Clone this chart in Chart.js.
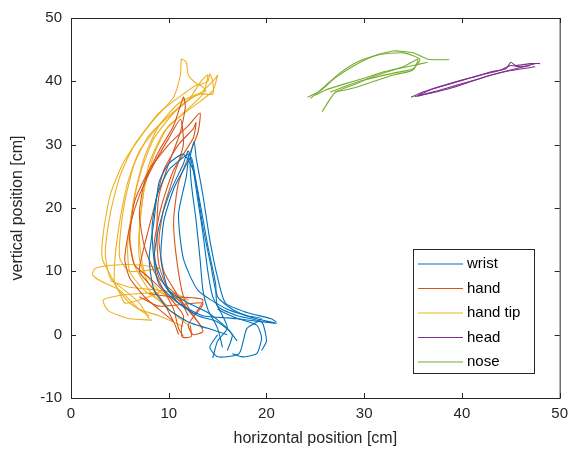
<!DOCTYPE html>
<html>
<head>
<meta charset="utf-8">
<script src="https://cdn.jsdelivr.net/npm/chart.js@4/dist/chart.umd.min.js"></script>
<style>
  html, body { margin: 0; padding: 0; background: #fff; }
  #wrap { width: 575px; height: 454px; }
</style>
</head>
<body>
<div id="wrap"><canvas id="trajChart" width="575" height="454"></canvas></div>
<script>
// tick labels
var xTicks = [0, 10, 20, 30, 40, 50];
var yTicks = [-10, 0, 10, 20, 30, 40, 50];

var partNames = ["wrist", "hand", "hand tip", "head", "nose"];
var partColors = ["#0072BD", "#D95319", "#EDB120", "#7E2F8E", "#77AC30"];

// trajectories, [x, y] in cm
var wrist = [
    [[15.5,-2],[15,1],[14,4],[13.5,7],[13.2,12],[12.8,18],[12.3,24],[12.2,28],[12.6,30.5],[12.8,28],[13.5,22],[14.2,15],[15,9],[15.8,5],[18,3.5],[20.5,2.5],[21,2]],
    [[16,-2.5],[16.5,0],[15,2],[13,3],[11,5],[9.5,8],[8.5,12],[8.3,17],[8.8,22],[10,26],[11.5,28],[12,28.5],[11.8,25],[11,19],[11.5,12],[13,7],[16,4],[19,2.5],[21,1.8],[17,2.6],[15,4]],
    [[14.5,-3.7],[15,-1],[16,1],[15.5,3],[14.5,6],[14,10],[13.5,16],[13,21],[12.5,26],[12,29],[11.5,27],[10,22],[9,17],[8.5,12],[9,8],[11,5],[13.5,3],[17,2.5],[19,1.5],[19.5,-0.5],[19,-3],[17.5,-3.5],[16.5,-3]],
    [[19.5,-2.5],[20,-1],[19.5,2],[17,3],[15,4.5],[14.8,8],[14,14],[13.3,20],[12.5,26],[11.5,28.5],[10,27],[9,24],[8.5,18],[8,12],[8.5,7],[10,4],[12,2],[14,1],[16,0]],
    [[17,-1],[16,1],[14,3.5],[12,5],[10,7],[9.2,12],[9.5,18],[10.5,23],[11.5,26],[12.3,28],[12.8,24],[13.5,17],[14.3,11],[15,6],[16.5,4],[18,3],[19.5,2.5],[18,1],[17.2,-3],[15,-3.5],[14.2,-2],[15,0]]
];
var hand = [
    [[11.5,-0.3],[11,1],[10.5,4],[9.5,7],[8.5,10],[7.5,14],[7,19],[7.5,24],[9,29],[10.5,33],[11.5,37.5],[11.7,36],[11.2,32],[10,27],[9,22],[8.8,16],[9,11],[10,7],[12,4],[13,2],[13.5,0.5],[12.5,0],[12,1.5],[13.5,5.5],[10,6],[8,6.5]],
    [[12.2,1.5],[12.3,-0.3],[11.4,-0.4],[11.3,1],[11.5,3],[10,6],[8,9],[6.5,11],[6,15],[6.5,21],[8,26],[10,30],[12,33],[13.2,35],[13,32],[12,28],[11,24],[10.5,18],[10.8,12],[11.5,6],[12.5,3],[13.5,1]],
    [[10.5,2],[9.5,5],[8,8],[7,10],[7.5,14],[8.5,20],[9.5,26],[11,30],[12.5,32.5],[12.8,33.5],[12.5,31],[10.5,26],[9.2,20],[8.5,14],[9,9],[11,6],[12.5,3],[13.5,5],[9,4.5],[7,6]],
    [[11,0],[10.5,2],[9,4],[7.5,6],[6,9],[5.5,12],[6,17],[7,22],[8.5,27],[10,31],[11.2,34],[11.5,30],[10.5,25],[9.5,20],[9,15],[9.5,10],[11,6],[12,3]]
];
var handTip = [
    [[8,2.5],[7,5],[5.5,7],[4,9],[3.5,13],[4,19],[5,25],[6.5,30],[8.5,34],[10.5,37.5],[11.2,41],[11.3,43.5],[11.8,43],[12,41],[13,39.5],[14,40],[14.2,41.2],[14.5,40],[14.5,38],[13,38],[11,36.5],[9,33],[7.5,28],[6.5,22],[6,16],[6.5,11],[8,7],[10,4],[12,1.5]],
    [[8.3,2.3],[6,2.5],[3.8,3.8],[3.3,5.5],[5.5,6.3],[9,6.6],[7,5.5],[5.5,5],[5,6.5],[4,9.5],[3.2,12],[3.3,16],[4,22],[5.3,27],[7,31],[9,35],[11.5,38],[13,39.5],[13.8,38.5],[12.5,37.5],[10.5,35],[8.5,31],[7.2,26],[6.3,20],[5.8,14],[6,10],[7.5,7],[10,4.5]],
    [[11.5,1.3],[9,3],[7,4],[5,7],[3,8.5],[2.2,9.5],[2.5,10.5],[4.5,11],[7,11],[9,10.5],[6,10],[5,12],[5,15],[5.5,21],[6.5,27],[8,31.5],[10,34.5],[12,37],[13.3,40],[14,41],[13.5,38],[11.5,35],[9.5,32],[8,27],[7.3,21],[7,15],[7.5,10],[9,7],[11,5]],
    [[8,3],[6,5],[4.5,8],[4.5,12],[5,18],[5.8,24],[7,29],[9,33],[11.5,36.5],[13.5,38.5],[14.8,40.5],[15,41],[14.5,38.5],[12.5,36],[10,33],[8.5,28.5],[7.5,23],[7,17],[7,12],[8,8],[10,6],[12,5.5],[10,6.8],[6,7.5],[4,8.5]]
];
var head = [
    [[34.8,37.5],[36,38.3],[38,39.3],[40,40.2],[42,41],[44,41.8],[45,42.5],[46,42.3],[47.5,42.8]],
    [[47,42.5],[45.5,42],[43.5,41.2],[41.5,40.3],[39.5,39.4],[37.5,38.5],[35.5,37.7]],
    [[35.5,37.8],[37,38.8],[39,39.7],[41,40.6],[43,41.5],[44.5,42],[45,43],[45.5,42.5],[47,42.8],[48,42.8]],
    [[47.5,42.3],[45,41.7],[43,41],[41,40],[39,39],[37,38.2],[35.2,37.6]]
];
var nose = [
    [[24.2,37.5],[25.5,38.5],[27,40.5],[29,42.5],[31,44],[33,44.8],[35,44.5],[36.5,43.5],[38.7,43.4]],
    [[36.5,43],[35,42.5],[33,41.8],[31,40.8],[29,39.5],[27,38.2],[25.7,35.2]],
    [[25,37.8],[26,38.6],[28,39.6],[30,40.5],[32,41.5],[34,42.3],[35.5,43.5],[35,41.8],[33,41],[31,40],[29,39],[27,38.3]],
    [[24.5,37.3],[25.8,39],[27.5,41.3],[29.5,43.2],[31.5,44.2],[34,44.5],[35.7,43.5],[35,42],[33,41.3],[30,40.2],[28,39.2],[26.5,38.3]]
];

var parts = [wrist, hand, handTip, head, nose];
var FONT = "'Liberation Sans', Arial, sans-serif";

var datasets = [];
parts.forEach(function (trials, i) {
    trials.forEach(function (tr) {
        datasets.push({
            label: partNames[i],
            data: tr.map(function (p) { return {x: p[0], y: p[1]}; }),
            showLine: true,
            borderColor: partColors[i],
            borderWidth: 1.1,
            pointRadius: 0,
            tension: 0.2,
            fill: false
        });
    });
});

// matlab style box, inward ticks and legend
var matlabBox = {
    id: "matlabBox",
    afterDraw: function (chart) {
        var c = chart.ctx, a = chart.chartArea;
        var xs = chart.scales.x, ys = chart.scales.y;
        c.save();
        c.strokeStyle = "#262626";
        c.lineWidth = 1;
        c.strokeRect(a.left + 0.5, a.top + 0.5, a.right - a.left, a.bottom - a.top);
        c.beginPath();
        xTicks.forEach(function (v) {
            var px = Math.round(xs.getPixelForValue(v)) + 0.5;
            c.moveTo(px, a.bottom); c.lineTo(px, a.bottom - 5);
            c.moveTo(px, a.top); c.lineTo(px, a.top + 5);
        });
        yTicks.forEach(function (v) {
            var py = Math.round(ys.getPixelForValue(v)) + 0.5;
            c.moveTo(a.left, py); c.lineTo(a.left + 5, py);
            c.moveTo(a.right, py); c.lineTo(a.right - 5, py);
        });
        c.stroke();

        // legend
        var lx = 413, ly = 249, lw = 121, lh = 124;
        c.fillStyle = "#fff";
        c.fillRect(lx, ly, lw, lh);
        c.strokeStyle = "#262626";
        c.strokeRect(lx + 0.5, ly + 0.5, lw, lh);
        c.font = "15px " + FONT;
        c.textBaseline = "middle";
        partNames.forEach(function (n, i) {
            var yy = ly + 15 + i * 24.5;
            c.strokeStyle = partColors[i];
            c.lineWidth = 1.2;
            c.beginPath();
            c.moveTo(418, yy); c.lineTo(463, yy);
            c.stroke();
            c.fillStyle = "#000";
            c.fillText(n, 467, yy);
        });
        c.restore();
    }
};

var ctx = document.getElementById("trajChart").getContext("2d");

var myChart = new Chart(ctx, {
    type: "scatter",
    data: { datasets: datasets },
    plugins: [matlabBox],
    options: {
        responsive: false,
        animation: false,
        layout: { padding: { top: 13, right: 14, left: 0, bottom: 0 } },
        plugins: {
            legend: { display: false },
            tooltip: { enabled: false }
        },
        scales: {
            x: {
                min: 0, max: 50,
                afterBuildTicks: function (s) { s.ticks = xTicks.map(function (v) { return {value: v}; }); },
                afterFit: function (s) { s.height = 56; },
                grid: { display: false, drawTicks: false },
                border: { display: false },
                ticks: { color: "#262626", font: { family: FONT, size: 15 }, padding: 7, maxRotation: 0 },
                title: { display: true, text: "horizontal position [cm]", color: "#262626", font: { family: FONT, size: 16 }, padding: { top: 0, bottom: 6 } }
            },
            y: {
                min: -10, max: 50,
                afterBuildTicks: function (s) { s.ticks = yTicks.map(function (v) { return {value: v}; }); },
                afterFit: function (s) { s.width = 71; },
                grid: { display: false, drawTicks: false },
                border: { display: false },
                ticks: { color: "#262626", font: { family: FONT, size: 15 }, padding: 9 },
                title: { display: true, text: "vertical position [cm]", color: "#262626", font: { family: FONT, size: 16 }, padding: { top: 8, bottom: 0 } }
            }
        }
    }
});
</script>
</body>
</html>
